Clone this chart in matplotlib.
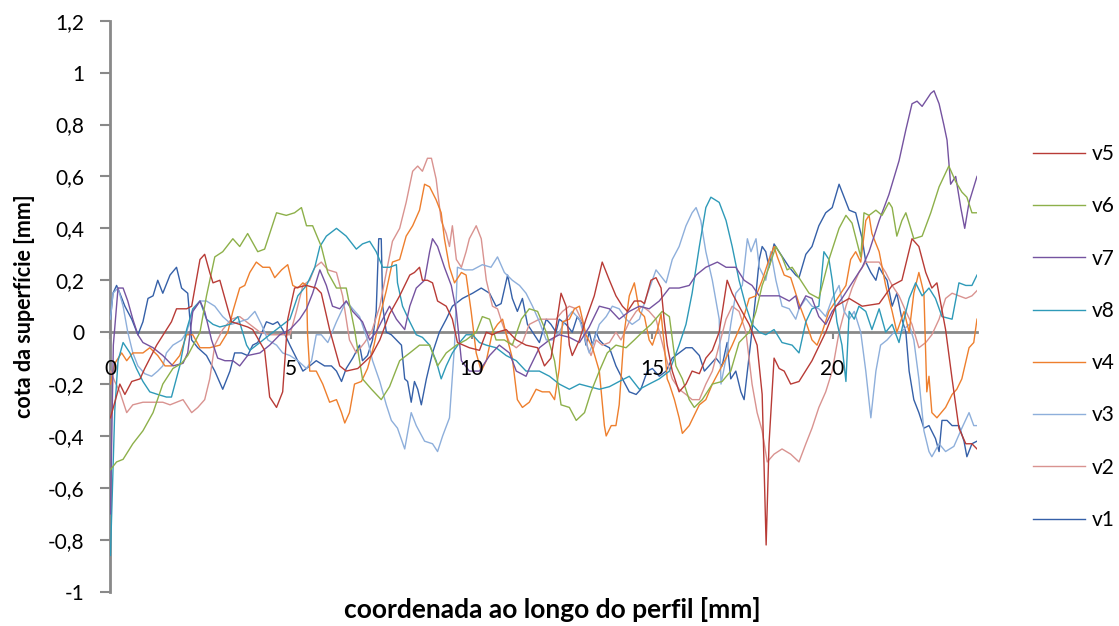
import matplotlib
matplotlib.use("Agg")
import matplotlib.pyplot as plt
import numpy as np

plt.rcParams['font.family'] = ['Lato', 'DejaVu Sans']

# Surface profiles: (coordinate along profile [mm], surface height [mm])
v5 = [(0.0, -0.33), (0.26, -0.20), (0.40, -0.24), (0.59, -0.19), (0.82, -0.18), (0.95, -0.14),
      (1.28, -0.05), (1.69, 0.04), (1.83, 0.09), (2.11, 0.09), (2.25, 0.10), (2.48, 0.28),
      (2.61, 0.30), (2.75, 0.23), (2.84, 0.19), (3.03, 0.20), (3.17, 0.13), (3.35, 0.04),
      (3.58, 0.03), (3.80, 0.02), (3.94, 0.01), (4.27, -0.07), (4.41, -0.25), (4.60, -0.29),
      (4.77, -0.23), (4.91, 0.05), (5.10, 0.17), (5.43, 0.18), (5.70, 0.17), (5.84, 0.15),
      (6.07, 0.01), (6.35, -0.13), (6.53, -0.15), (6.85, -0.14), (7.23, -0.09), (7.46, -0.03),
      (7.73, 0.07), (8.01, 0.14), (8.29, 0.22), (8.42, 0.23), (8.56, 0.25), (8.64, 0.20),
      (8.78, 0.20), (8.92, 0.19), (9.06, 0.12), (9.30, 0.10), (9.47, 0.05), (9.61, -0.04),
      (9.94, -0.06), (10.22, -0.07), (10.41, 0.00), (10.58, -0.01), (10.72, 0.00), (10.96, 0.01),
      (11.24, -0.03), (11.51, -0.05), (11.83, -0.06), (12.02, -0.13), (12.20, -0.10), (12.34, 0.02),
      (12.48, 0.15), (12.62, 0.10), (12.71, -0.05), (12.79, -0.09), (12.99, -0.03), (13.17, 0.05),
      (13.40, 0.14), (13.62, 0.27), (13.82, 0.20), (14.00, 0.14), (14.18, 0.10), (14.32, 0.08),
      (14.51, 0.12), (14.69, 0.12), (14.79, 0.11), (14.97, 0.20), (15.11, 0.21), (15.25, 0.17),
      (15.34, 0.04), (15.42, -0.05), (15.56, -0.15), (15.75, -0.23), (15.94, -0.20), (16.11, -0.15),
      (16.31, -0.16), (16.49, -0.10), (16.67, -0.07), (16.86, 0.00), (17.08, 0.20), (17.22, 0.15),
      (17.41, 0.10), (17.69, 0.03), (17.91, -0.05), (18.05, -0.24), (18.16, -0.82), (18.24, -0.43),
      (18.38, -0.10), (18.52, -0.14), (18.66, -0.15), (18.84, -0.20), (19.07, -0.19), (19.43, -0.11),
      (19.81, 0.00), (20.09, 0.10), (20.46, 0.13), (20.82, 0.10), (21.29, 0.11), (21.65, 0.18),
      (21.92, 0.20), (22.20, 0.36), (22.39, 0.33), (22.58, 0.23), (22.75, 0.17), (22.89, 0.19),
      (23.13, 0.01), (23.31, -0.18), (23.50, -0.37), (23.69, -0.43), (23.86, -0.43), (24.00, -0.45)]

v6 = [(0.0, -0.53), (0.17, -0.50), (0.35, -0.49), (0.62, -0.43), (0.90, -0.38), (1.18, -0.31),
      (1.45, -0.20), (1.73, -0.14), (1.97, -0.12), (2.14, -0.09), (2.48, 0.00), (2.66, 0.14),
      (2.89, 0.29), (3.11, 0.31), (3.39, 0.36), (3.58, 0.33), (3.80, 0.38), (4.08, 0.31),
      (4.27, 0.32), (4.60, 0.46), (4.87, 0.45), (5.10, 0.46), (5.29, 0.48), (5.43, 0.41),
      (5.60, 0.41), (5.84, 0.33), (6.02, 0.23), (6.26, 0.17), (6.53, 0.17), (6.76, 0.01),
      (6.98, -0.18), (7.23, -0.22), (7.50, -0.26), (7.73, -0.21), (8.01, -0.11), (8.29, -0.08),
      (8.56, -0.05), (8.84, -0.05), (9.06, -0.13), (9.30, -0.08), (9.58, -0.05), (9.85, -0.03),
      (10.13, 0.00), (10.30, 0.06), (10.50, 0.05), (10.68, -0.03), (10.91, -0.03), (11.13, -0.05),
      (11.38, 0.05), (11.60, 0.09), (11.83, 0.08), (12.07, 0.00), (12.30, -0.11), (12.48, -0.28),
      (12.71, -0.29), (12.90, -0.34), (13.13, -0.31), (13.31, -0.23), (13.54, -0.15), (13.76, -0.08),
      (14.00, -0.05), (14.28, -0.06), (14.51, -0.03), (14.73, 0.00), (14.97, 0.03), (15.28, 0.08),
      (15.48, 0.06), (15.66, -0.13), (15.84, -0.18), (16.03, -0.26), (16.17, -0.29), (16.39, -0.26),
      (16.67, -0.20), (16.94, -0.19), (17.18, -0.15), (17.41, -0.04), (17.69, 0.00), (17.88, 0.08),
      (18.05, 0.18), (18.24, 0.25), (18.43, 0.33), (18.60, 0.29), (18.74, 0.24), (18.88, 0.25),
      (19.07, 0.21), (19.35, 0.15), (19.62, 0.13), (19.90, 0.28), (20.18, 0.40), (20.37, 0.45),
      (20.54, 0.42), (20.78, 0.29), (20.87, 0.46), (21.01, 0.45), (21.20, 0.47), (21.37, 0.45),
      (21.56, 0.50), (21.65, 0.48), (21.78, 0.37), (21.92, 0.43), (22.03, 0.46), (22.12, 0.42),
      (22.25, 0.36), (22.48, 0.37), (22.72, 0.46), (22.95, 0.56), (23.22, 0.64), (23.41, 0.58),
      (23.58, 0.54), (23.72, 0.52), (23.86, 0.46), (24.00, 0.46)]

v7 = [(0.0, -0.70), (0.08, -0.05), (0.21, 0.17), (0.35, 0.17), (0.48, 0.12), (0.62, 0.05),
      (0.76, -0.01), (0.90, -0.04), (1.18, -0.06), (1.45, -0.09), (1.73, -0.13), (2.01, -0.12),
      (2.14, -0.08), (2.28, 0.08), (2.48, 0.12), (2.61, 0.08), (2.80, -0.03), (2.97, -0.10),
      (3.17, -0.11), (3.39, -0.11), (3.58, -0.13), (3.80, -0.09), (4.14, -0.08), (4.41, -0.05),
      (4.69, -0.01), (4.97, 0.01), (5.24, 0.05), (5.43, 0.09), (5.60, 0.15), (5.80, 0.24),
      (5.98, 0.18), (6.15, 0.10), (6.35, 0.09), (6.53, 0.12), (6.71, 0.08), (6.98, 0.04),
      (7.18, -0.03), (7.36, 0.00), (7.54, 0.05), (7.73, 0.10), (7.92, 0.05), (8.15, 0.01),
      (8.29, 0.10), (8.47, 0.17), (8.70, 0.20), (8.84, 0.31), (8.92, 0.36), (9.06, 0.33),
      (9.25, 0.25), (9.44, 0.18), (9.58, 0.08), (9.72, -0.11), (9.94, -0.15), (10.22, -0.15),
      (10.50, -0.09), (10.77, -0.05), (11.05, -0.08), (11.24, -0.15), (11.51, -0.17), (11.60, -0.14),
      (11.88, -0.06), (12.16, -0.03), (12.43, -0.01), (12.71, -0.02), (12.99, -0.04), (13.26, 0.02),
      (13.54, 0.10), (13.82, 0.09), (14.09, 0.05), (14.37, 0.08), (14.65, 0.10), (14.92, 0.09),
      (15.20, 0.12), (15.48, 0.17), (15.75, 0.17), (16.03, 0.18), (16.22, 0.22), (16.49, 0.25),
      (16.81, 0.27), (17.05, 0.25), (17.32, 0.25), (17.55, 0.20), (17.77, 0.18), (17.97, 0.14),
      (18.24, 0.14), (18.52, 0.14), (18.80, 0.12), (18.98, 0.14), (19.07, 0.09), (19.26, 0.14),
      (19.43, 0.13), (19.62, 0.06), (19.81, 0.03), (19.99, 0.08), (20.26, 0.13), (20.54, 0.19),
      (20.82, 0.25), (21.01, 0.31), (21.29, 0.43), (21.56, 0.53), (21.84, 0.66), (22.03, 0.78),
      (22.20, 0.88), (22.34, 0.89), (22.48, 0.87), (22.72, 0.92), (22.81, 0.93), (22.95, 0.88),
      (23.08, 0.80), (23.17, 0.74), (23.27, 0.57), (23.41, 0.60), (23.55, 0.48), (23.66, 0.40),
      (23.78, 0.50), (24.00, 0.60)]

v8 = [(0.0, -0.86), (0.12, -0.30), (0.21, -0.11), (0.35, -0.04), (0.54, -0.08), (0.72, -0.14),
      (0.90, -0.19), (1.09, -0.23), (1.31, -0.24), (1.55, -0.25), (1.69, -0.25), (1.92, -0.13),
      (2.11, 0.01), (2.28, 0.09), (2.48, 0.12), (2.66, 0.05), (2.84, 0.03), (3.03, 0.02),
      (3.31, 0.03), (3.53, 0.06), (3.77, -0.05), (3.86, -0.07), (4.14, -0.04), (4.41, -0.01),
      (4.69, 0.02), (4.97, 0.05), (5.19, 0.14), (5.43, 0.18), (5.66, 0.25), (5.80, 0.33),
      (5.98, 0.37), (6.26, 0.40), (6.53, 0.37), (6.81, 0.32), (6.98, 0.34), (7.18, 0.35),
      (7.36, 0.31), (7.54, 0.25), (7.73, 0.25), (7.92, 0.26), (7.95, 0.19), (8.09, 0.10),
      (8.29, 0.04), (8.47, -0.01), (8.64, -0.02), (8.84, -0.05), (9.02, -0.11), (9.16, -0.18),
      (9.30, -0.13), (9.47, -0.08), (9.67, -0.04), (9.85, -0.01), (10.03, -0.01), (10.22, -0.04),
      (10.41, -0.05), (10.68, -0.06), (10.96, -0.09), (11.24, -0.11), (11.51, -0.15), (11.88, -0.15),
      (12.16, -0.17), (12.43, -0.20), (12.71, -0.22), (12.99, -0.20), (13.26, -0.21), (13.54, -0.22),
      (13.82, -0.21), (14.09, -0.19), (14.37, -0.17), (14.65, -0.22), (14.92, -0.20), (15.20, -0.18),
      (15.48, -0.15), (15.75, -0.05), (15.94, 0.03), (16.11, 0.15), (16.31, 0.33), (16.49, 0.48),
      (16.63, 0.52), (16.86, 0.50), (17.05, 0.43), (17.22, 0.33), (17.41, 0.20), (17.60, 0.10),
      (17.77, 0.03), (17.97, 0.00), (18.15, -0.01), (18.38, 0.01), (18.60, -0.04), (18.88, -0.05),
      (19.07, -0.08), (19.26, 0.04), (19.43, 0.09), (19.62, 0.10), (19.76, 0.31), (19.90, 0.28),
      (19.99, 0.20), (20.12, 0.04), (20.26, -0.05), (20.37, -0.19), (20.46, 0.08), (20.60, 0.05),
      (20.73, 0.10), (20.92, 0.08), (21.09, 0.01), (21.29, 0.09), (21.47, 0.00), (21.65, 0.03),
      (21.84, -0.04), (21.98, 0.05), (22.12, 0.13), (22.30, 0.19), (22.48, 0.14), (22.67, 0.17),
      (22.85, 0.13), (23.03, 0.06), (23.31, 0.05), (23.50, 0.19), (23.69, 0.18), (23.86, 0.18),
      (24.00, 0.22)]

v4 = [(0.0, -0.20), (0.12, -0.12), (0.31, -0.08), (0.45, -0.11), (0.62, -0.08), (0.90, -0.08),
      (1.09, -0.06), (1.31, -0.09), (1.51, -0.13), (1.69, -0.13), (1.92, -0.09), (2.11, -0.01),
      (2.28, -0.01), (2.48, -0.06), (2.75, -0.06), (3.03, -0.05), (3.25, 0.00), (3.39, 0.08),
      (3.58, 0.17), (3.72, 0.18), (3.86, 0.23), (4.04, 0.27), (4.22, 0.25), (4.41, 0.25),
      (4.55, 0.21), (4.74, 0.24), (4.91, 0.26), (5.05, 0.18), (5.19, 0.17), (5.33, 0.19),
      (5.43, 0.18), (5.46, -0.01), (5.52, -0.15), (5.70, -0.15), (5.88, -0.20), (6.07, -0.27),
      (6.26, -0.26), (6.40, -0.31), (6.49, -0.35), (6.62, -0.31), (6.76, -0.20), (6.95, -0.19),
      (7.12, -0.14), (7.30, -0.05), (7.46, 0.06), (7.64, 0.16), (7.81, 0.27), (8.01, 0.28),
      (8.19, 0.37), (8.37, 0.41), (8.56, 0.47), (8.70, 0.57), (8.84, 0.56), (9.02, 0.51),
      (9.16, 0.46), (9.25, 0.36), (9.39, 0.25), (9.53, 0.19), (9.72, 0.23), (9.85, 0.22),
      (9.99, 0.08), (10.13, -0.08), (10.27, -0.15), (10.41, -0.11), (10.58, 0.00), (10.72, 0.03),
      (10.86, 0.05), (11.00, -0.03), (11.13, -0.10), (11.27, -0.26), (11.41, -0.29), (11.60, -0.27),
      (11.79, -0.22), (11.96, -0.23), (12.16, -0.23), (12.30, -0.26), (12.43, -0.14), (12.52, 0.04),
      (12.71, 0.05), (12.85, 0.09), (12.99, 0.10), (13.17, -0.01), (13.35, -0.06), (13.54, -0.15),
      (13.68, -0.36), (13.73, -0.40), (13.87, -0.36), (14.00, -0.36), (14.09, -0.28), (14.23, 0.00),
      (14.37, 0.14), (14.51, 0.19), (14.65, 0.08), (14.79, 0.06), (14.92, -0.03), (15.01, -0.05),
      (15.15, 0.01), (15.25, 0.07), (15.34, -0.05), (15.42, -0.18), (15.48, -0.20), (15.62, -0.26),
      (15.75, -0.33), (15.84, -0.39), (16.03, -0.36), (16.17, -0.32), (16.31, -0.28), (16.49, -0.26),
      (16.67, -0.20), (16.86, -0.15), (17.05, -0.10), (17.22, -0.05), (17.50, 0.04), (17.69, 0.13),
      (17.88, 0.14), (18.05, 0.20), (18.24, 0.28), (18.38, 0.33), (18.47, 0.29), (18.66, 0.22),
      (18.84, 0.21), (19.07, 0.11), (19.26, 0.04), (19.43, -0.03), (19.57, -0.05), (19.71, 0.00),
      (19.90, 0.08), (20.18, 0.14), (20.37, 0.18), (20.50, 0.28), (20.64, 0.31), (20.78, 0.27),
      (20.92, 0.43), (21.01, 0.45), (21.09, 0.38), (21.29, 0.31), (21.47, 0.18), (21.65, 0.08),
      (21.78, 0.00), (21.98, 0.08), (22.12, 0.00), (22.25, 0.15), (22.39, 0.23), (22.53, 0.15),
      (22.61, -0.23), (22.67, -0.17), (22.75, -0.31), (22.89, -0.33), (23.13, -0.29), (23.31, -0.24),
      (23.44, -0.22), (23.58, -0.18), (23.78, -0.06), (23.91, -0.04), (24.00, 0.05)]

v3 = [(0.0, 0.05), (0.07, 0.15), (0.21, 0.17), (0.35, 0.10), (0.48, 0.00), (0.62, -0.08),
      (0.76, -0.13), (0.95, -0.16), (1.14, -0.17), (1.31, -0.15), (1.45, -0.13), (1.55, -0.08),
      (1.73, -0.05), (1.97, -0.03), (2.11, 0.00), (2.28, 0.08), (2.48, 0.12), (2.66, 0.12),
      (2.89, 0.10), (3.11, 0.06), (3.35, 0.03), (3.58, 0.04), (3.80, 0.05), (4.00, 0.08),
      (4.18, 0.03), (4.36, -0.03), (4.60, -0.05), (4.77, -0.08), (4.97, -0.09), (5.19, -0.11),
      (5.43, -0.14), (5.57, -0.11), (5.70, -0.01), (5.84, -0.01), (6.02, -0.04), (6.26, 0.04),
      (6.53, 0.12), (6.71, 0.09), (6.90, 0.06), (7.12, -0.03), (7.26, -0.11), (7.46, -0.19),
      (7.64, -0.28), (7.78, -0.34), (7.95, -0.37), (8.15, -0.45), (8.33, -0.31), (8.47, -0.36),
      (8.70, -0.42), (8.92, -0.43), (9.06, -0.46), (9.20, -0.40), (9.39, -0.33), (9.53, -0.05),
      (9.61, 0.25), (9.81, 0.24), (10.03, 0.24), (10.30, 0.26), (10.54, 0.25), (10.72, 0.29),
      (10.91, 0.23), (11.13, 0.20), (11.33, 0.18), (11.51, 0.15), (11.69, 0.10), (11.88, 0.04),
      (12.07, -0.03), (12.24, -0.03), (12.43, 0.00), (12.62, 0.05), (12.79, 0.08), (12.99, 0.05),
      (13.17, -0.04), (13.26, -0.08), (13.40, -0.03), (13.54, 0.03), (13.73, 0.06), (13.90, 0.10),
      (14.09, 0.09), (14.28, 0.05), (14.45, 0.03), (14.65, 0.05), (14.83, 0.13), (15.01, 0.20),
      (15.11, 0.24), (15.28, 0.21), (15.39, 0.19), (15.56, 0.28), (15.75, 0.33), (15.94, 0.41),
      (16.11, 0.46), (16.22, 0.48), (16.35, 0.43), (16.49, 0.31), (16.67, 0.20), (16.86, 0.05),
      (16.91, -0.20), (17.05, -0.10), (17.18, 0.03), (17.32, 0.15), (17.50, 0.18), (17.64, 0.36),
      (17.74, 0.31), (17.88, 0.36), (17.97, 0.25), (18.15, 0.20), (18.29, 0.31), (18.43, 0.20),
      (18.60, 0.10), (18.80, 0.09), (18.98, 0.05), (19.07, 0.09), (19.26, 0.13), (19.43, 0.10),
      (19.62, 0.09), (19.81, 0.06), (19.99, 0.13), (20.18, 0.18), (20.32, 0.08), (20.46, 0.05),
      (20.60, 0.08), (20.78, 0.00), (20.92, -0.15), (21.06, -0.33), (21.20, -0.15), (21.33, -0.05),
      (21.51, -0.03), (21.70, 0.00), (21.89, 0.00), (22.12, 0.03), (22.25, -0.03), (22.39, -0.18),
      (22.53, -0.38), (22.67, -0.46), (22.75, -0.48), (22.95, -0.43), (23.13, -0.46), (23.36, -0.44),
      (23.58, -0.37), (23.78, -0.31), (23.91, -0.36), (24.00, -0.36)]

v2 = [(0.0, -0.15), (0.12, -0.19), (0.26, -0.23), (0.45, -0.31), (0.62, -0.28), (0.90, -0.27),
      (1.18, -0.27), (1.45, -0.27), (1.65, -0.28), (1.83, -0.27), (2.01, -0.26), (2.25, -0.31),
      (2.42, -0.29), (2.61, -0.26), (2.75, -0.18), (2.89, -0.05), (3.11, 0.01), (3.35, 0.05),
      (3.58, 0.06), (3.86, 0.03), (4.14, 0.00), (4.41, -0.01), (4.69, -0.01), (4.97, -0.01),
      (5.15, 0.08), (5.33, 0.18), (5.52, 0.20), (5.66, 0.25), (5.84, 0.27), (6.02, 0.24),
      (6.26, 0.23), (6.43, 0.14), (6.62, -0.03), (6.81, -0.08), (7.04, -0.04), (7.23, 0.00),
      (7.46, 0.10), (7.64, 0.23), (7.81, 0.35), (8.01, 0.40), (8.19, 0.50), (8.37, 0.62),
      (8.51, 0.64), (8.64, 0.62), (8.78, 0.67), (8.89, 0.67), (9.02, 0.59), (9.16, 0.43),
      (9.30, 0.38), (9.39, 0.33), (9.47, 0.41), (9.58, 0.28), (9.72, 0.25), (9.85, 0.31),
      (9.94, 0.36), (10.13, 0.41), (10.27, 0.36), (10.41, 0.20), (10.58, 0.10), (10.72, 0.09),
      (10.86, 0.03), (11.05, -0.04), (11.24, -0.06), (11.41, -0.04), (11.60, 0.03), (11.88, 0.05),
      (12.16, 0.05), (12.34, 0.05), (12.52, 0.08), (12.71, 0.10), (12.90, 0.09), (13.07, 0.04),
      (13.22, -0.06), (13.31, -0.09), (13.45, -0.03), (13.62, -0.05), (13.82, -0.04), (14.00, 0.00),
      (14.14, -0.03), (14.37, 0.04), (14.56, 0.08), (14.73, 0.10), (14.92, 0.08), (15.11, 0.05),
      (15.28, -0.04), (15.39, -0.10), (15.56, -0.18), (15.75, -0.22), (15.94, -0.24), (16.11, -0.26),
      (16.31, -0.26), (16.49, -0.20), (16.67, -0.15), (16.86, -0.05), (17.05, 0.05), (17.22, 0.10),
      (17.41, 0.08), (17.60, 0.00), (17.77, -0.20), (17.91, -0.31), (18.05, -0.38), (18.19, -0.50),
      (18.38, -0.47), (18.60, -0.45), (18.84, -0.47), (19.07, -0.50), (19.26, -0.43), (19.43, -0.37),
      (19.62, -0.29), (19.81, -0.23), (19.99, -0.15), (20.18, 0.00), (20.37, 0.10), (20.54, 0.17),
      (20.73, 0.23), (20.92, 0.27), (21.09, 0.27), (21.29, 0.27), (21.47, 0.23), (21.65, 0.18),
      (21.84, 0.14), (22.03, 0.08), (22.20, 0.03), (22.39, -0.06), (22.58, -0.04), (22.75, -0.01),
      (22.95, 0.05), (23.13, 0.13), (23.31, 0.15), (23.50, 0.14), (23.69, 0.13), (23.86, 0.14),
      (24.00, 0.16)]

v1 = [(0.0, 0.05), (0.07, 0.15), (0.17, 0.18), (0.26, 0.15), (0.40, 0.10), (0.59, 0.05),
      (0.76, -0.01), (0.90, 0.04), (1.04, 0.13), (1.18, 0.14), (1.31, 0.20), (1.45, 0.15),
      (1.65, 0.22), (1.83, 0.25), (1.97, 0.17), (2.14, 0.15), (2.25, -0.03), (2.42, -0.06),
      (2.66, -0.09), (2.89, -0.15), (3.11, -0.22), (3.31, -0.15), (3.44, -0.08), (3.63, -0.08),
      (3.80, -0.09), (3.94, -0.05), (4.08, -0.04), (4.32, 0.04), (4.50, 0.03), (4.63, 0.04),
      (4.77, 0.01), (4.97, -0.05), (5.15, -0.10), (5.33, -0.15), (5.52, -0.13), (5.70, -0.11),
      (5.93, -0.13), (6.12, -0.13), (6.26, -0.15), (6.40, -0.19), (6.53, -0.14), (6.71, -0.10),
      (6.90, -0.05), (6.98, -0.11), (7.12, -0.09), (7.26, -0.03), (7.36, 0.08), (7.43, 0.36),
      (7.50, 0.36), (7.54, 0.10), (7.64, 0.00), (7.78, -0.01), (7.92, -0.03), (8.06, -0.05),
      (8.15, -0.18), (8.23, -0.19), (8.33, -0.27), (8.42, -0.19), (8.51, -0.22), (8.61, -0.28),
      (8.75, -0.18), (8.92, -0.08), (9.11, 0.00), (9.30, 0.05), (9.47, 0.10), (9.75, 0.13),
      (10.03, 0.15), (10.27, 0.17), (10.50, 0.15), (10.68, 0.10), (10.82, 0.11), (11.00, 0.22),
      (11.13, 0.13), (11.27, 0.08), (11.41, 0.13), (11.55, 0.03), (11.74, -0.01), (11.88, -0.04),
      (12.07, 0.05), (12.20, 0.03), (12.34, 0.00), (12.43, 0.05), (12.62, 0.03), (12.79, 0.00),
      (12.93, 0.06), (13.07, 0.03), (13.17, -0.05), (13.26, 0.00), (13.35, -0.05), (13.45, 0.00),
      (13.54, -0.03), (13.68, -0.05), (13.82, -0.06), (14.00, -0.13), (14.18, -0.18), (14.37, -0.23),
      (14.56, -0.24), (14.69, -0.22), (14.87, -0.15), (15.01, -0.14), (15.20, -0.17), (15.39, -0.15),
      (15.56, -0.10), (15.75, -0.08), (15.94, -0.06), (16.11, -0.06), (16.31, -0.09), (16.45, -0.15),
      (16.58, -0.13), (16.77, -0.10), (16.94, -0.13), (17.08, -0.04), (17.18, -0.18), (17.32, -0.15),
      (17.46, -0.23), (17.55, -0.26), (17.64, -0.15), (17.74, -0.03), (17.88, 0.15), (17.97, 0.28),
      (18.05, 0.33), (18.15, 0.31), (18.24, 0.25), (18.38, 0.34), (18.47, 0.32), (18.66, 0.28),
      (18.80, 0.25), (18.98, 0.22), (19.07, 0.21), (19.26, 0.30), (19.43, 0.33), (19.62, 0.41),
      (19.81, 0.46), (19.99, 0.48), (20.18, 0.57), (20.32, 0.52), (20.46, 0.47), (20.64, 0.46),
      (20.82, 0.36), (20.92, 0.27), (21.06, 0.23), (21.20, 0.20), (21.29, 0.25), (21.37, 0.23),
      (21.51, 0.20), (21.65, 0.10), (21.78, 0.15), (21.92, 0.05), (22.03, 0.00), (22.12, -0.15),
      (22.25, -0.26), (22.39, -0.31), (22.53, -0.37), (22.67, -0.36), (22.85, -0.41), (22.95, -0.46),
      (23.03, -0.34), (23.17, -0.34), (23.31, -0.36), (23.50, -0.36), (23.64, -0.42), (23.72, -0.48),
      (23.86, -0.43), (24.00, -0.42)]

legend_names = ['v5', 'v6', 'v7', 'v8', 'v4', 'v3', 'v2', 'v1']
profiles = {'v1': v1, 'v2': v2, 'v3': v3, 'v4': v4, 'v5': v5, 'v6': v6, 'v7': v7, 'v8': v8}
colors = {'v5': '#B83B36', 'v6': '#8DB04A', 'v7': '#7553A0', 'v8': '#2E9AB8',
          'v4': '#EE7F2D', 'v3': '#8EAFDB', 'v2': '#D99390', 'v1': '#3560A8'}
y_ticks = [-1.0, -0.8, -0.6, -0.4, -0.2, 0.0, 0.2, 0.4, 0.6, 0.8, 1.0, 1.2]
x_ticks = [0, 5, 10, 15, 20]

axis_grey = '#898989'

fig = plt.figure(figsize=(11.19, 6.26), dpi=100)
ax = fig.add_axes([0.0987, 0.0548, 0.7744, 0.9121])

handles = {}
for name in ['v1', 'v2', 'v3', 'v4', 'v8', 'v7', 'v6', 'v5']:
    xs, ys = zip(*profiles[name])
    line, = ax.plot(xs, ys, color=colors[name], lw=1.0, solid_joinstyle='round')
    handles[name] = line

ax.set_xlim(0, 24)
ax.set_ylim(-1.0, 1.2)

for side in ('top', 'right'):
    ax.spines[side].set_visible(False)
ax.spines['bottom'].set_position(('data', 0))
for side in ('left', 'bottom'):
    ax.spines[side].set_color(axis_grey)
    ax.spines[side].set_linewidth(2.0)
    ax.spines[side].set_zorder(0.5)


def comma_label(v):
    if abs(v) < 1e-9:
        return '0'
    return f'{v:g}'.replace('.', ',')


ax.set_yticks(y_ticks)
ax.set_yticklabels([comma_label(v) for v in y_ticks])
ax.tick_params(axis='y', direction='out', length=7, width=1.5, color=axis_grey,
               pad=12, labelsize=15, labelcolor='black')

# x ticks sit on the zero line; their labels hang a fixed distance below it
ax.set_xticks(x_ticks)
ax.tick_params(axis='x', direction='out', length=5, width=1.5, color=axis_grey,
               labelbottom=False)
for v in x_ticks:
    ax.annotate(str(v), xy=(v, 0), xycoords='data', xytext=(0, -31),
                textcoords='offset points', ha='center', va='baseline',
                fontsize=15, annotation_clip=False)

fig.text(552 / 1119, 1 - 610 / 626, 'coordenada ao longo do perfil [mm]',
         ha='center', va='center', fontsize=19, fontweight='bold')
fig.text(25 / 1119, 1 - 306 / 626, 'cota da superfície [mm]', rotation=90,
         ha='center', va='center', fontsize=15.5, fontweight='bold')

fig.legend([handles[n] for n in legend_names], legend_names,
           loc='center left', bbox_to_anchor=(1033 / 1119, 1 - 337 / 626),
           frameon=False, fontsize=15, handlelength=2.5, handletextpad=0.3,
           labelspacing=1.55, borderpad=0, borderaxespad=0)

fig.savefig('out.png', dpi=100)
